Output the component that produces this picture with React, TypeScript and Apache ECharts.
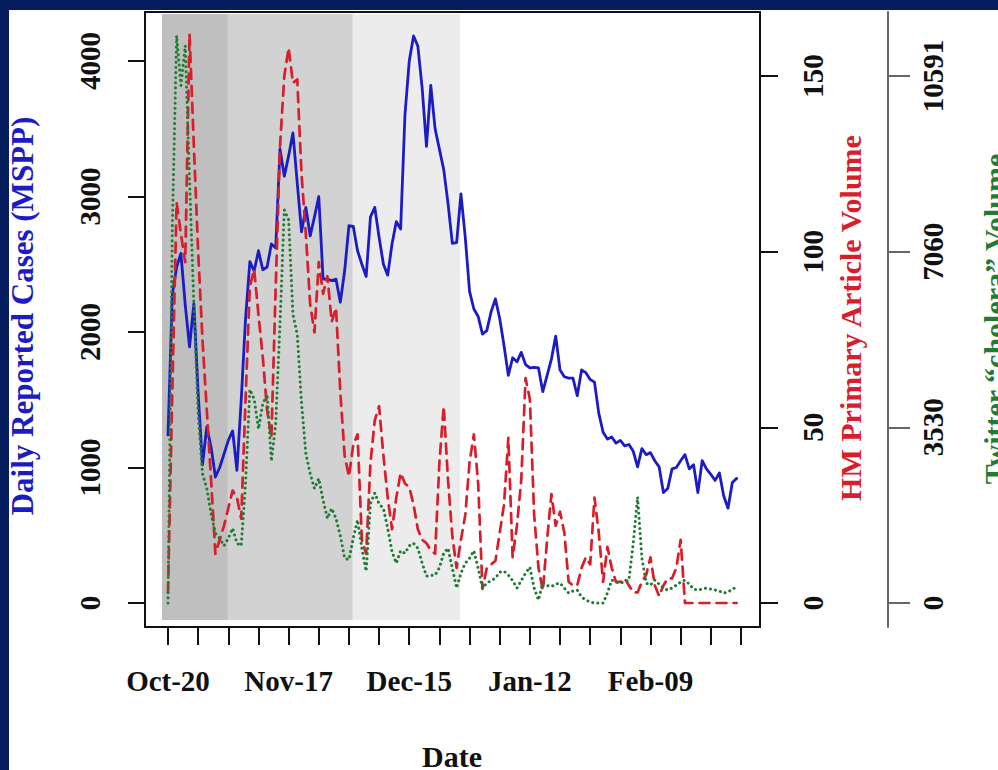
import React, { useEffect, useRef } from "react";
import * as echarts from "echarts";

// ---- Data (day 0 = Oct-20) ----
const dayTicks = [0, 7, 14, 21, 28, 35, 42, 49, 56, 63, 70, 77, 84, 91, 98, 105, 112, 119, 126, 133];
const dateLabelDays = [0, 28, 56, 84, 112];
const dateLabels = ["Oct-20", "Nov-17", "Dec-15", "Jan-12", "Feb-09"];
const casesTicks = [0, 1000, 2000, 3000, 4000];
const hmTicks = [0, 50, 100, 150];
const twitterTicks = [0, 3530, 7060, 10591];

const cases = [
  1240, 2275, 2480, 2580, 2200, 1890, 2210, 1550, 1020, 1300,
  1150, 930, 1000, 1100, 1200, 1270, 980, 1500, 2100, 2520,
  2450, 2600, 2460, 2480, 2650, 2620, 3350, 3150, 3300, 3470,
  3100, 2740, 2920, 2710, 2850, 3000, 2390, 2390, 2380, 2390,
  2220, 2450, 2785, 2780, 2600, 2500, 2410, 2850, 2920, 2700,
  2500, 2420, 2650, 2815, 2760, 3600, 4000, 4185, 4110, 3800,
  3370, 3820, 3500, 3350, 3200, 2950, 2655, 2660, 3020, 2700,
  2300, 2170, 2115, 1985, 2010, 2150, 2245, 2100, 1900, 1680,
  1810, 1780, 1850, 1760, 1735, 1740, 1735, 1560, 1680, 1800,
  1970, 1720, 1670, 1660, 1660, 1530, 1720, 1700, 1650, 1630,
  1400, 1260, 1210, 1225, 1180, 1200, 1160, 1170, 1120, 1005,
  1140, 1095, 1110, 1050, 1005, 815, 845, 990, 1000, 1050,
  1095, 990, 1020, 815, 1050, 990, 950, 905, 960, 790,
  700, 890, 920,
];

const hmArticles = [
  3, 60, 114, 105, 97, 162, 130, 100, 75, 55,
  35, 14, 18, 22, 27, 32, 30, 24, 58, 90,
  95, 82, 70, 55, 47, 90, 130, 150, 158, 148,
  149, 122, 105, 85, 77, 97, 88, 93, 80, 84,
  60, 42, 36, 45, 48, 18, 14, 40, 52, 56,
  42, 30, 21, 30, 37, 34, 33, 28, 21, 18,
  17, 15, 14, 40, 56, 35, 19, 10, 18, 25,
  40, 48, 34, 4, 10, 11, 12, 20, 28, 47,
  13, 22, 35, 64, 58, 25, 10, 3.5, 18, 31,
  22, 26, 20, 6, 5, 5, 10, 13, 11, 30,
  20, 6, 16, 10, 6, 6, 7, 5, 3, 3,
  6, 8, 13, 5, 2, 5, 7, 7, 10, 18,
  0, 0, 0, 0, 0, 0, 0, 0, 0, 0,
  0, 0, 0,
];

const twitterVolume = [
  0, 7500, 11400, 10400, 11200, 8500, 6000, 3800, 2600, 2300,
  1800, 1400, 1300, 1150, 1300, 1500, 1200, 1150, 2400, 4290,
  4100, 3500, 4000, 4200, 2850, 3600, 5600, 7900, 7700, 5800,
  5400, 4000, 3000, 2600, 2300, 2500, 2070, 1700, 1900, 1700,
  1350, 900, 870, 1300, 1670, 1100, 640, 2000, 2210, 1990,
  1900, 1500, 1030, 800, 1050, 1000, 1150, 1200, 1100, 800,
  540, 560, 560, 710, 1000, 1100, 700, 300, 600, 800,
  900, 1050, 700, 300, 400, 450, 500, 620, 640, 560,
  450, 300, 450, 600, 720, 300, 60, 400, 350, 330,
  380, 400, 300, 200, 240, 260, 120, 60, 20, 0,
  0, 0, 200, 460, 420, 400, 430, 460, 1200, 2130,
  900, 400, 360, 460, 380, 300, 260, 300, 360, 420,
  460, 380, 280, 260, 280, 300, 280, 260, 240, 200,
  220, 280, 320,
];

// shaded periods, in days from Oct-20
const shadedPeriods = [
  [-1.4, 13.9],
  [13.9, 42.9],
  [42.9, 67.8],
];
const shadeColors = ["#bfbfbf", "#d2d2d2", "#ececec"];

const BLUE = "#1c1cc4";
const RED = "#d81e2a";
const GREEN = "#1f7d32";
const INK = "#111111";
const FONT = "'Liberation Serif', 'Times New Roman', serif";

export default function App() {
  const ref = useRef<HTMLDivElement>(null);

  useEffect(() => {
    if (!ref.current) return;
    const chart = echarts.init(ref.current, undefined, { renderer: "svg" });

    const tickLabelStyle = {
      fontSize: 29,
      fontWeight: "bold" as const,
      fontFamily: FONT,
      color: INK,
    };
    const plain = (v: number) => String(v);

    chart.setOption({
      animation: false,
      backgroundColor: "transparent",
      grid: {
        left: 145,
        top: 12,
        width: 615,
        height: 615,
        show: true,
        borderColor: INK,
        borderWidth: 2,
        backgroundColor: "transparent",
        containLabel: false,
        outerBoundsMode: "none",
      },
      xAxis: {
        type: "value",
        min: -5.34,
        max: 137.42,
        axisLine: { show: false, onZero: false },
        splitLine: { show: false },
        axisTick: {
          show: true,
          customValues: dayTicks,
          length: 18,
          lineStyle: { color: INK, width: 2 },
        },
        axisLabel: {
          ...tickLabelStyle,
          customValues: dateLabelDays,
          margin: 39,
          formatter: (v: number) => dateLabels[dateLabelDays.indexOf(v)] ?? "",
        },
      },
      yAxis: [
        {
          type: "value",
          position: "left",
          min: -177,
          max: 4362,
          axisLine: { show: false, onZero: false },
          splitLine: { show: false },
          axisTick: {
            show: true,
            customValues: casesTicks,
            length: 17,
            lineStyle: { color: INK, width: 2 },
          },
          axisLabel: {
            ...tickLabelStyle,
            customValues: casesTicks,
            rotate: 90,
            margin: 41,
            formatter: plain,
          },
        },
        {
          type: "value",
          position: "right",
          min: -6.83,
          max: 168.2,
          axisLine: { show: false, onZero: false },
          splitLine: { show: false },
          axisTick: {
            show: true,
            customValues: hmTicks,
            length: 18,
            lineStyle: { color: INK, width: 2 },
          },
          axisLabel: {
            ...tickLabelStyle,
            customValues: hmTicks,
            rotate: 90,
            margin: 38,
            formatter: plain,
          },
        },
        {
          type: "value",
          position: "right",
          offset: 128,
          min: -482.3,
          max: 11877,
          axisLine: { show: true, onZero: false, lineStyle: { color: "#666", width: 2 } },
          splitLine: { show: false },
          axisTick: {
            show: true,
            customValues: twitterTicks,
            length: 22,
            lineStyle: { color: "#666", width: 2 },
          },
          axisLabel: {
            ...tickLabelStyle,
            customValues: twitterTicks,
            rotate: 90,
            margin: 30,
            formatter: plain,
          },
        },
      ],
      graphic: [
        {
          type: "text",
          x: 22,
          y: 316,
          rotation: Math.PI / 2,
          style: {
            text: "Daily Reported Cases (MSPP)",
            fill: BLUE,
            fontSize: 31,
            fontWeight: "bold",
            fontFamily: FONT,
            textAlign: "center",
            textVerticalAlign: "middle",
          },
        },
        {
          type: "text",
          x: 850,
          y: 318,
          rotation: Math.PI / 2,
          style: {
            text: "HM Primary Article Volume",
            fill: RED,
            fontSize: 30,
            fontWeight: "bold",
            fontFamily: FONT,
            textAlign: "center",
            textVerticalAlign: "middle",
          },
        },
        {
          type: "text",
          x: 994,
          y: 319,
          rotation: Math.PI / 2,
          style: {
            text: "Twitter \u201Ccholera\u201D Volume",
            fill: GREEN,
            fontSize: 30,
            fontWeight: "bold",
            fontFamily: FONT,
            textAlign: "center",
            textVerticalAlign: "middle",
          },
        },
        {
          type: "text",
          x: 452,
          y: 756,
          style: {
            text: "Date",
            fill: INK,
            fontSize: 30,
            fontWeight: "bold",
            fontFamily: FONT,
            textAlign: "center",
            textVerticalAlign: "middle",
          },
        },
      ],
      series: [
        {
          name: "periods",
          type: "line",
          xAxisIndex: 0,
          yAxisIndex: 0,
          data: [],
          z: 1,
          silent: true,
          markArea: {
            silent: true,
            data: shadedPeriods.map((p, i) => [
              { xAxis: p[0], yAxis: -125, itemStyle: { color: shadeColors[i], opacity: 1 } },
              { xAxis: p[1], yAxis: 4347 },
            ]),
          },
        },
        {
          name: "Daily Reported Cases (MSPP)",
          type: "line",
          xAxisIndex: 0,
          yAxisIndex: 0,
          data: cases.map((v, i) => [i, v]),
          showSymbol: false,
          symbol: "none",
          z: 3,
          lineStyle: { color: BLUE, width: 2.8, join: "round", cap: "round" },
        },
        {
          name: "HM Primary Article Volume",
          type: "line",
          xAxisIndex: 0,
          yAxisIndex: 1,
          data: hmArticles.map((v, i) => [i, v]),
          showSymbol: false,
          symbol: "none",
          z: 4,
          lineStyle: { color: RED, width: 2.7, type: [10, 7], cap: "round", join: "round" },
        },
        {
          name: "Twitter cholera Volume",
          type: "line",
          xAxisIndex: 0,
          yAxisIndex: 2,
          data: twitterVolume.map((v, i) => [i, v]),
          showSymbol: false,
          symbol: "none",
          z: 5,
          lineStyle: { color: GREEN, width: 3, type: [0.1, 5], cap: "round", join: "round" },
        },
      ],
    });

    return () => chart.dispose();
  }, []);

  return (
    <div
      style={{
        position: "fixed",
        left: 0,
        top: 0,
        width: 998,
        height: 770,
        background: "#051d5c",
        overflow: "hidden",
      }}
    >
      <div style={{ position: "absolute", left: 9, top: 10, width: 989, height: 760, background: "#ffffff" }} />
      <div ref={ref} style={{ position: "absolute", left: 0, top: 0, width: 998, height: 770 }} />
    </div>
  );
}
